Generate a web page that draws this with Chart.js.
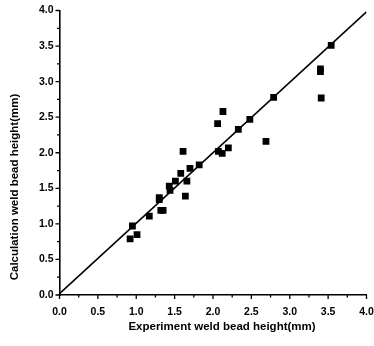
<!DOCTYPE html>
<html><head><meta charset="utf-8">
<script src="https://cdn.jsdelivr.net/npm/chart.js@4/dist/chart.umd.min.js"></script>
<style>html,body{margin:0;padding:0;background:#fff;overflow:hidden;width:374px;height:346px}#wrap{width:382px;height:346px;position:relative}</style>
</head><body><div id="wrap"><canvas id="c" width="382" height="346"></canvas></div>
<script>
const expX = [0.92,0.95,1.01,1.17,1.30,1.30,1.32,1.35,1.43,1.44,1.51,1.58,1.61,1.64,1.66,1.70,1.82,2.06,2.07,2.12,2.13,2.20,2.33,2.48,2.69,2.79,3.40,3.40,3.41,3.54];
const calcY = [0.79,0.97,0.85,1.11,1.37,1.34,1.19,1.19,1.53,1.47,1.60,1.71,2.02,1.39,1.60,1.78,1.83,2.41,2.02,1.99,2.58,2.07,2.33,2.47,2.16,2.78,3.18,3.14,2.77,3.51];
const fitX = [0, 4.0];
const fitY = [0.02, 3.98];
const tickVals = [0,0.5,1.0,1.5,2.0,2.5,3.0,3.5,4.0];
const minorVals = [0.25,0.75,1.25,1.75,2.25,2.75,3.25,3.75];
const xTitle = 'Experiment weld bead height(mm)';
const yTitle = 'Calculation weld bead height(mm)';

const FONT = '"Liberation Sans", Arial, sans-serif';

const tickPlugin = {
  id: 'ticksAndTitles',
  afterDraw(chart) {
    const ctx = chart.ctx, xs = chart.scales.x, ys = chart.scales.y;
    const ca = chart.chartArea;
    ctx.save();
    ctx.strokeStyle = '#000';
    ctx.lineWidth = 1.3;
    ctx.beginPath();
    tickVals.forEach(v => {
      const px = xs.getPixelForValue(v);
      ctx.moveTo(px, ca.bottom); ctx.lineTo(px, ca.bottom + 4);
      const py = ys.getPixelForValue(v);
      ctx.moveTo(ca.left, py); ctx.lineTo(ca.left - 4, py);
    });
    minorVals.forEach(v => {
      const px = xs.getPixelForValue(v);
      ctx.moveTo(px, ca.bottom); ctx.lineTo(px, ca.bottom + 2.5);
      const py = ys.getPixelForValue(v);
      ctx.moveTo(ca.left, py); ctx.lineTo(ca.left - 2.5, py);
    });
    ctx.stroke();
    ctx.fillStyle = '#000';
    ctx.font = 'bold 11.5px ' + FONT;
    ctx.textAlign = 'center';
    ctx.textBaseline = 'middle';
    ctx.fillText(xTitle, 222, 327);
    ctx.translate(15, 187);
    ctx.rotate(-Math.PI / 2);
    ctx.fillText(yTitle, 0, 0);
    ctx.restore();
  }
};

new Chart(document.getElementById('c'), {
  type: 'scatter',
  data: {
    datasets: [
      {
        type: 'line',
        data: fitX.map((x, i) => ({x: x, y: fitY[i]})),
        borderColor: '#000',
        borderWidth: 1.6,
        pointRadius: 0,
        fill: false,
        tension: 0
      },
      {
        data: expX.map((x, i) => ({x: x, y: calcY[i]})),
        backgroundColor: '#000',
        borderColor: '#000',
        borderWidth: 0,
        pointStyle: 'rect',
        pointRadius: 4.8
      }
    ]
  },
  options: {
    responsive: false,
    animation: false,
    events: [],
    layout: {padding: {top: 10.5, right: 15.5, left: 0, bottom: 0}},
    plugins: {legend: {display: false}, tooltip: {enabled: false}},
    scales: {
      x: {
        type: 'linear', min: 0, max: 4,
        grid: {display: false, drawTicks: false},
        border: {display: true, color: '#000', width: 1.6},
        ticks: {stepSize: 0.5, color: '#000', padding: 11, maxRotation: 0,
          font: {family: FONT, size: 10.5, weight: 'bold'},
          callback: v => v.toFixed(1)},
        afterFit: s => { s.height = 51; s.paddingLeft = 0; s.paddingRight = 0; }
      },
      y: {
        type: 'linear', min: 0, max: 4,
        grid: {display: false, drawTicks: false},
        border: {display: true, color: '#000', width: 1.6},
        ticks: {stepSize: 0.5, color: '#000', padding: 6,
          font: {family: FONT, size: 10.5, weight: 'bold'},
          callback: v => v.toFixed(1)},
        afterFit: s => { s.width = 59.5; s.paddingTop = 0; s.paddingBottom = 0; }
      }
    }
  },
  plugins: [tickPlugin]
});
</script></body></html>
